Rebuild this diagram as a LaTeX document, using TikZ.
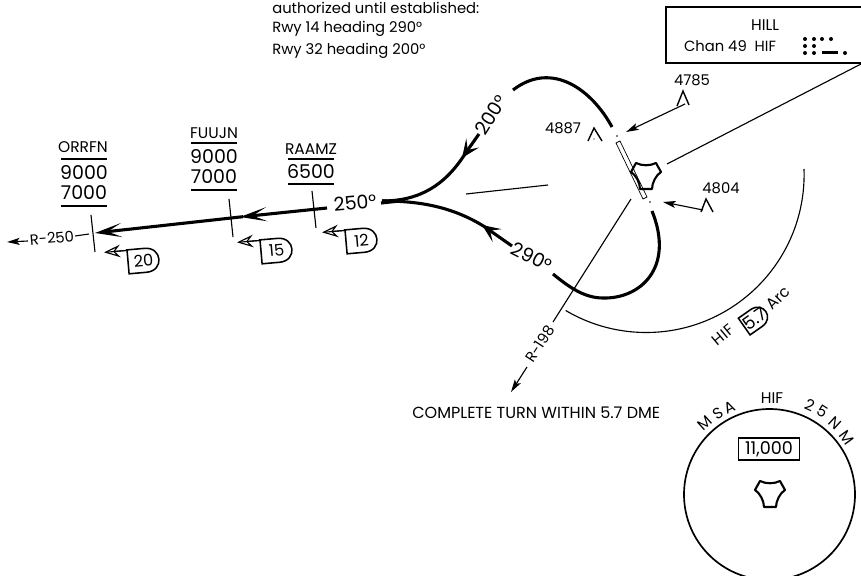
\documentclass[tikz,border=0pt]{standalone}
\usepackage{fontspec}
\setmainfont{Poppins}
\usetikzlibrary{arrows.meta}
\tikzset{
  smalltxt/.style={font=\fontsize{10.5}{12}\selectfont,inner sep=0pt},
  capstxt/.style={font=\fontsize{11}{13}\selectfont,inner sep=0pt},
  alttxt/.style={font=\fontsize{13.5}{16}\selectfont,inner sep=0pt},
  thinline/.style={line width=0.8pt},
  altline/.style={line width=0.9pt},
  track/.style={line width=2.2pt},
  trackhead/.style={-{Stealth[length=19pt,width=10pt,inset=10pt]}},
  turnhead/.style={-{Stealth[length=13pt,width=11pt,inset=6pt]}},
  smallhead/.style={-{Stealth[length=9pt,width=5pt,inset=2pt]}},
  openhead/.style={-{Stealth[open,length=11.5pt,width=9pt,inset=4pt]}},
  vortac/.pic={
    \draw[line width=1.5pt,line join=round] (-10,-12) .. controls (-4,-9) and (4,-9) .. (10,-12) -- (15,-3)
      .. controls (10,0) and (6,8) .. (6,14) -- (-6,14) .. controls (-6,8) and (-10,0) .. (-15,-3) -- cycle;
  },
  dmeflag/.pic={
    \draw[line width=1.1pt,fill=white] (-15.5,-12) -- (2,-12) .. controls (11,-12) and (15.5,-6) .. (15.5,0)
      .. controls (15.5,6) and (11,12) .. (2,12) -- (-15.5,12) -- cycle;
    \node[smalltxt,transform shape,font=\fontsize{11.5}{13}\selectfont] (-txt) at (0,0) {\tikzpictext};
  },
  dmepoint/.pic={
    \draw[thinline,openhead] (-15.5,-11.5) -- (-38.5,-11.5);
    \draw[thinline] (-15.5,-11.5) -- (-36,-11.5);
  }
}
\begin{document}
\begin{tikzpicture}[x=0.025cm,y=-0.025cm]
\clip (0,0) rectangle (861,576);

% frequency box
\draw[line width=1pt] (861,7) -- (666,7) -- (666,63) -- (861,63);
\node[capstxt] (hill) at (765,25) {HILL};
\node[smalltxt] (chan) at (730,46) {Chan 49\ \ HIF};
\foreach \px/\py in {805/39,814/39,822/39,831/39,805/46,814/46,805/53,814/53,845/53}
  \fill (\px,\py) circle (2);
\draw[line width=1.9pt] (822,52.5) -- (838,52.5);
\draw[thinline] (861,64) -- (667,164);

% missed approach note
\node[smalltxt,anchor=west] (note1) at (272,8) {authorized until established:};
\node[smalltxt,anchor=west] (note2) at (272,29) {Rwy 14 heading 290°};
\node[smalltxt,anchor=west] (note3) at (272,51) {Rwy 32 heading 200°};
\node[capstxt,anchor=west,font=\fontsize{11.4}{13}\selectfont] (note4) at (412,413) {COMPLETE TURN WITHIN 5.7 DME};

% runway and station
\draw[line width=0.5pt] (616,143) -- (620,141) -- (647,197) -- (643,199) -- cycle;
\fill (617,136) circle (0.9);
\fill (650,202) circle (0.9);
\pic at (646,175) {vortac};
\draw[thinline] (631,199) -- (553,322);
\draw[thinline,smallhead] (527,367) -- (511,392);
\node[smalltxt,rotate=57] (r198) at (540,344) {R-198};
\draw[thinline] (466,194) -- (548,185);

% turn tracks
\draw[track] (612,127) .. controls (592,90) and (552,60) .. (513,90);
\draw[track,turnhead] (479,134) -- (462,158);
\draw[track] (465,154) .. controls (445,185) and (420,201) .. (382,201);
\draw[track] (382,201) .. controls (415,201) and (450,205) .. (485,227);
\draw[track,turnhead] (512,246) -- (482,225);
\draw[track] (553,274) .. controls (570,288) and (585,298) .. (603,298) .. controls (640,299) and (675,268) .. (652,211);
\node[alttxt,rotate=58] (t200) at (491,115) {200°};
\node[alttxt,rotate=-27] (t290) at (532,257) {290°};

% arrival course
\draw[track,trackhead] (327,208) -- (240,217);
\draw[track,trackhead] (243,216.7) -- (95,233);
\draw[track] (381,203) -- (400,201);
\node[alttxt,rotate=5] (t250) at (355,203) {250°};
\draw[thinline] (91,215) -- (95,252);
\draw[thinline] (229,199) -- (233,237);
\draw[thinline] (312,191) -- (316,228);
\node[smalltxt,rotate=5] (r250) at (52,238) {R-250};
\draw[thinline] (75,236) -- (89,234);
\draw[thinline,smallhead] (28,241) -- (7,242);

% fixes
\node[capstxt] (orrfn) at (83,147) {ORRFN};
\draw[altline] (61,159) -- (107,159);
\node[alttxt] (orrfn1) at (84,173) {9000};
\node[alttxt] (orrfn2) at (84,193) {7000};
\draw[altline] (61,206) -- (107,206);
\node[capstxt] (fuujn) at (214,133) {FUUJN};
\draw[altline] (191,143) -- (237,143);
\node[alttxt] (fuujn1) at (214,157) {9000};
\node[alttxt] (fuujn2) at (214,177) {7000};
\draw[altline] (191,190) -- (237,190);
\node[capstxt] (raamz) at (311,149) {RAAMZ};
\draw[altline] (288,159) -- (334,159);
\node[alttxt] (raamz1) at (311,172) {6500};
\draw[altline] (288,184) -- (334,184);

% distance flags
\pic[rotate=5] at (143.5,260.5) {dmepoint};
\pic (f20) [rotate=5,pic text=20] at (143.5,260.5) {dmeflag};
\pic[rotate=5] at (276.5,250.5) {dmepoint};
\pic (f15) [rotate=5,pic text=15] at (276.5,250.5) {dmeflag};
\pic[rotate=5] at (361.5,240.5) {dmepoint};
\pic (f12) [rotate=5,pic text=12] at (361.5,240.5) {dmeflag};

% spot heights
\node[smalltxt] (h4785) at (692,80) {4785};
\draw[line width=1pt] (677,106) -- (683,91) -- (689,105);
\draw[thinline,smallhead] (685,104) -- (626,132);
\node[smalltxt] (h4804) at (721,188) {4804};
\draw[line width=1pt] (701,212) -- (706,199) -- (713,212);
\draw[thinline,smallhead] (703,210) -- (663,202);
\node[smalltxt] (h4887) at (563,128) {4887};
\draw[line width=1pt] (588,141) -- (594,128) -- (602,141);
\fill (594,139) circle (0.7);

% dme arc
\draw[thinline] (804,169) arc[start angle=-2,end angle=120.6,radius=158];
\pic (f57) [rotate=35,scale=.85,pic text={\fontsize{15}{16}\selectfont 5.7}] at (755,319) {dmeflag};
\node[capstxt,rotate=40] (arc1) at (723,335) {HIF};
\node[capstxt,rotate=45] (arc2) at (778,298) {Arc};

% msa
\draw[line width=1.2pt] (769.5,494.5) circle (85.5);
\node[capstxt] (msahif) at (772,398) {HIF};
\foreach \lett/\ang/\rad in {M/-42/96,S/-32.6/96,A/-24.8/96,2/24.3/98,5/32.5/98,N/42.5/97,M/54/96}
  \node[capstxt,rotate=-\ang] (msa\ang) at ({769.5+\rad*sin(\ang)},{494.5-\rad*cos(\ang)}) {\lett};
\node[alttxt,draw,line width=0.9pt,minimum width=43pt,minimum height=15.6pt,font=\fontsize{12.5}{14}\selectfont] (msaalt) at (769,449) {11,000};
\pic at (770,493) {vortac};
\end{tikzpicture}
\end{document}
